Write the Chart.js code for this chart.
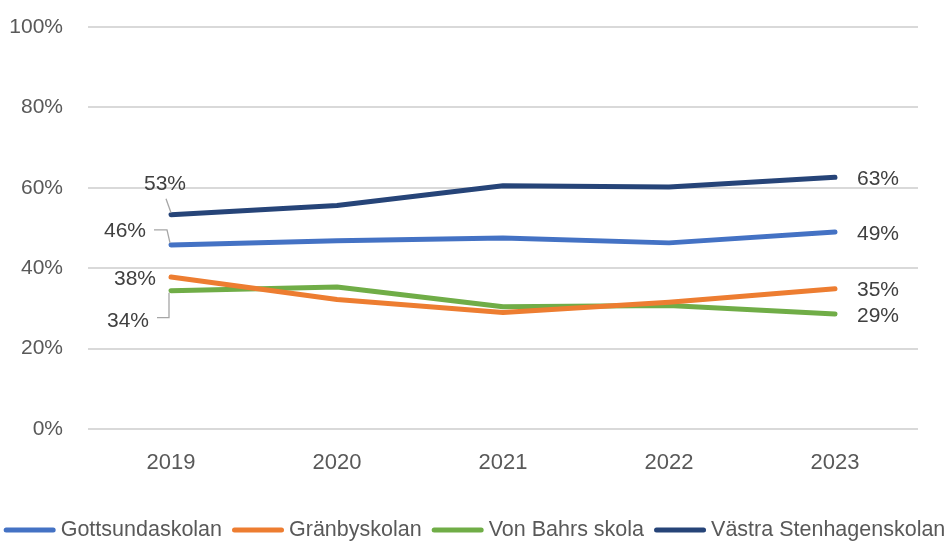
<!DOCTYPE html>
<html>
<head>
<meta charset="utf-8">
<script src="https://cdn.jsdelivr.net/npm/chart.js@4/dist/chart.umd.min.js"></script>
<style>
  html, body { margin: 0; padding: 0; background: #fff; }
  #wrap { width: 949px; height: 542px; }
</style>
</head>
<body>
<div id="wrap"><canvas id="chart"></canvas></div>
<script>
const years = ['2019', '2020', '2021', '2022', '2023'];
const gottsunda = [45.8, 46.8, 47.5, 46.3, 49.0];
const granby = [37.8, 32.2, 29.0, 31.5, 34.9];
const vonBahrs = [34.4, 35.3, 30.4, 30.7, 28.6];
const vastra = [53.3, 55.6, 60.5, 60.2, 62.6];
const yTicks = [0, 20, 40, 60, 80, 100];

const FONT = "'Liberation Sans', Arial, sans-serif";

// label placement for first/last points (offsets from the point, in px)
const firstLabels = [
    { dx: -46, dy: -14, leader: [[-17, -15], [-4, -15], [-1, -2]] },
    { dx: -36, dy: 2, leader: null },
    { dx: -43, dy: 30, leader: [[-14, 27], [-2, 27], [-2, 2]] },
    { dx: -6, dy: -31, leader: [[-5, -16], [0, -2]] }
];

const labelPlugin = {
    id: 'endLabels',
    afterDatasetsDraw(chart) {
        const ctx = chart.ctx;
        ctx.save();
        ctx.font = '21px ' + FONT;
        ctx.fillStyle = '#404040';
        ctx.textBaseline = 'middle';
        chart.data.datasets.forEach((ds, i) => {
            const pts = chart.getDatasetMeta(i).data;
            const p0 = pts[0];
            const cfg = firstLabels[i];
            ctx.textAlign = 'center';
            ctx.fillText(Math.round(ds.data[0]) + '%', p0.x + cfg.dx, p0.y + cfg.dy);
            if (cfg.leader) {
                ctx.strokeStyle = '#A6A6A6';
                ctx.lineWidth = 1.3;
                ctx.beginPath();
                cfg.leader.forEach((o, k) => {
                    if (k === 0) ctx.moveTo(p0.x + o[0], p0.y + o[1]);
                    else ctx.lineTo(p0.x + o[0], p0.y + o[1]);
                });
                ctx.stroke();
            }
            const pl = pts[pts.length - 1];
            ctx.textAlign = 'left';
            ctx.fillText(Math.round(ds.data[ds.data.length - 1]) + '%', pl.x + 22, pl.y + 2);
        });
        ctx.restore();
    }
};

// bottom legend: short thick line, small gap, series name
const legendPlugin = {
    id: 'lineLegend',
    afterDraw(chart) {
        const ctx = chart.ctx;
        const swatch = 52, gapText = 5, gapItem = 10, y = 530;
        ctx.save();
        ctx.font = '21.5px ' + FONT;
        ctx.textBaseline = 'middle';
        ctx.textAlign = 'left';
        const items = chart.data.datasets.map(ds => ({
            label: ds.label, color: ds.borderColor, w: ctx.measureText(ds.label).width
        }));
        const total = items.reduce((s, it) => s + swatch + gapText + it.w, 0) + gapItem * (items.length - 1);
        let x = (chart.width - total) / 2;
        items.forEach(it => {
            ctx.strokeStyle = it.color;
            ctx.lineWidth = 5;
            ctx.lineCap = 'round';
            ctx.beginPath();
            ctx.moveTo(x + 2.5, y);
            ctx.lineTo(x + swatch - 2.5, y);
            ctx.stroke();
            ctx.fillStyle = '#595959';
            ctx.fillText(it.label, x + swatch + gapText, y);
            x += swatch + gapText + it.w + gapItem;
        });
        ctx.restore();
    }
};

function series(label, data, color) {
    return {
        label: label,
        data: data,
        borderColor: color,
        backgroundColor: color,
        borderWidth: 5,
        borderCapStyle: 'round',
        borderJoinStyle: 'round',
        pointRadius: 0,
        pointHoverRadius: 0,
        tension: 0
    };
}

const ctx = document.getElementById('chart').getContext('2d');
new Chart(ctx, {
    type: 'line',
    data: {
        labels: years,
        datasets: [
            series('Gottsundaskolan', gottsunda, '#4472C4'),
            series('Gränbyskolan', granby, '#ED7D31'),
            series('Von Bahrs skola', vonBahrs, '#70AD47'),
            series('Västra Stenhagenskolan', vastra, '#264478')
        ]
    },
    options: {
        responsive: true,
        maintainAspectRatio: false,
        animation: false,
        layout: { padding: { top: 27, right: 31, left: 0, bottom: 0 } },
        plugins: {
            legend: { display: false },
            tooltip: { enabled: false }
        },
        scales: {
            x: {
                offset: true,
                grid: { display: false, drawTicks: false },
                border: { display: false },
                ticks: {
                    font: { family: FONT, size: 22 },
                    color: '#595959',
                    padding: 21
                },
                afterFit(scale) {
                    scale.height = 113;
                    scale.paddingLeft = 0;
                    scale.paddingRight = 0;
                }
            },
            y: {
                min: 0,
                max: 100,
                afterBuildTicks(scale) {
                    scale.ticks = yTicks.map(v => ({ value: v }));
                },
                grid: { color: '#D9D9D9', lineWidth: 2, drawTicks: false },
                border: { display: false },
                ticks: {
                    font: { family: FONT, size: 21 },
                    color: '#595959',
                    padding: 25,
                    callback: v => v + '%'
                },
                afterFit(scale) {
                    scale.width = 88;
                    scale.paddingTop = 0;
                    scale.paddingBottom = 0;
                }
            }
        }
    },
    plugins: [labelPlugin, legendPlugin]
});
</script>
</body>
</html>
